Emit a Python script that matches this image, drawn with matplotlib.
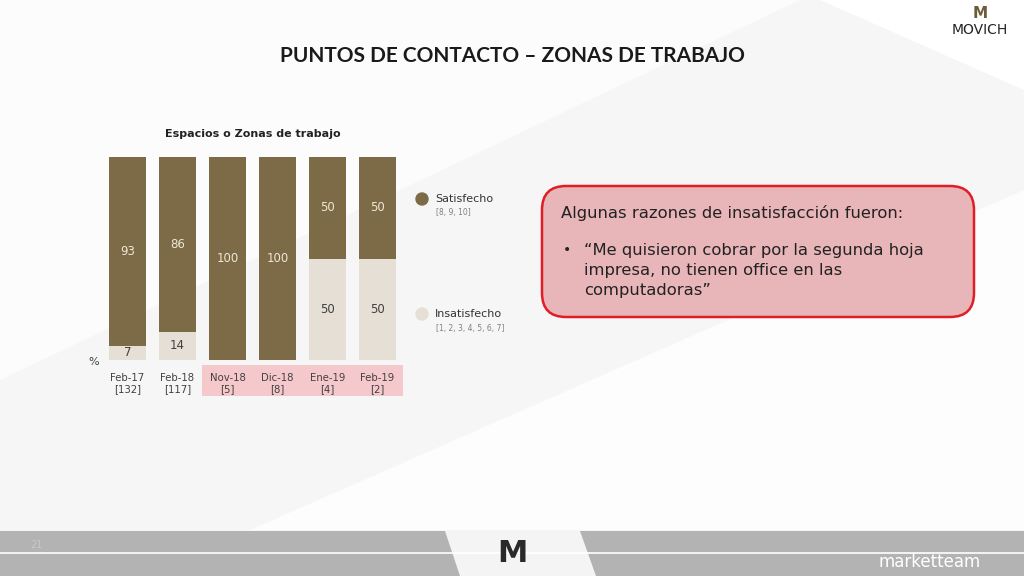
import matplotlib.pyplot as plt
import matplotlib.patches as mpatches
import numpy as np

# data
periodos = ['Feb-17', 'Feb-18', 'Nov-18', 'Dic-18', 'Ene-19', 'Feb-19']
bases = ['[132]', '[117]', '[5]', '[8]', '[4]', '[2]']
insatisfecho = [7, 14, 0, 0, 50, 50]
satisfecho = [93, 86, 100, 100, 50, 50]

c_sat = '#7d6b47'
c_ins = '#e6dfd5'
W, H = 1024, 576

plt.rcParams['font.family'] = ['DejaVu Sans']

fig = plt.figure(figsize=(10.24, 5.76), dpi=100)
fig.patch.set_facecolor('#f6f6f6')

# background decorations in pixel coords
bg = fig.add_axes([0, 0, 1, 1])
bg.set_xlim(0, W)
bg.set_ylim(H, 0)
bg.axis('off')
bg.add_patch(mpatches.Polygon([[0, 0], [800, 0], [0, 380]], color='#fcfcfc', lw=0))
bg.add_patch(mpatches.Polygon([[250, 530], [1024, 190], [1024, 530]], color='#fdfdfd', lw=0))
bg.add_patch(mpatches.Polygon([[820, 0], [1024, 0], [1024, 90]], color='#ffffff', lw=0))
# footer band
bg.add_patch(mpatches.Rectangle((0, 531), W, 45, color='#b3b3b3', lw=0))
bg.plot([0, W], [553, 553], color='white', lw=1.2)
bg.add_patch(mpatches.Polygon([[445, 531], [580, 531], [596, 576], [460, 576]],
                              color='#f4f4f4', lw=0))
bg.text(512, 553, 'M', ha='center', va='center', fontsize=22, color='#2a2a2a',
        fontweight='bold')
bg.text(30, 545, '21', fontsize=7, color='#c8c8c8', va='center')
bg.text(930, 562, 'marketteam', fontsize=12, color='white', ha='center', va='center')
bg.text(980, 30, 'MOVICH', fontsize=10, color='#222222', ha='center', va='center')
bg.text(980, 14, 'M', fontsize=11, color='#6d5c3a', ha='center', va='center',
        fontweight='bold')

# title
bg.text(512, 56, 'PUNTOS DE CONTACTO – ZONAS DE TRABAJO', ha='center', va='center',
        fontsize=15, fontweight='bold', color='#1a1a1a', family='Lato')
bg.text(253, 134, 'Espacios o Zonas de trabajo', ha='center', va='center',
        fontsize=8, fontweight='bold', color='#222222')

# pink band behind recent periods
bg.add_patch(mpatches.Rectangle((202, 365), 201, 31, color='#f5c9cc', lw=0))

# chart
ax = fig.add_axes([100 / W, (H - 360) / H, 305 / W, 203 / H])
x = np.arange(len(periodos))
ax.bar(x, insatisfecho, width=0.74, color=c_ins)
ax.bar(x, satisfecho, width=0.74, bottom=insatisfecho, color=c_sat)
for i in x:
    if insatisfecho[i] > 0:
        ax.text(i, insatisfecho[i] / 2, str(insatisfecho[i]), ha='center', va='center',
                fontsize=8.5, color='#404040')
    ax.text(i, insatisfecho[i] + satisfecho[i] / 2, str(satisfecho[i]), ha='center',
            va='center', fontsize=8.5, color='#efe6d6')
ax.set_xlim(-0.55, 5.55)
ax.set_ylim(0, 100)
ax.axis('off')
ax.patch.set_alpha(0)
for i in x:
    ax.text(i, -6.5, periodos[i] + '\n' + bases[i], ha='center', va='top', fontsize=7.3,
            color='#404040', linespacing=1.15)
ax.text(-0.68, -1, '%', ha='center', va='center', fontsize=8, color='#404040')

# legend
bg.add_patch(mpatches.Circle((422, 199), 6, color=c_sat))
bg.text(435, 199, 'Satisfecho', va='center', fontsize=8, color='#333333')
bg.text(436, 213, '[8, 9, 10]', va='center', fontsize=5.5, color='#808080')
bg.add_patch(mpatches.Circle((422, 314), 6, color=c_ins))
bg.text(435, 314, 'Insatisfecho', va='center', fontsize=8, color='#333333')
bg.text(436, 328, '[1, 2, 3, 4, 5, 6, 7]', va='center', fontsize=5.5, color='#808080')

# comment box
box = mpatches.FancyBboxPatch((542, 186), 432, 131,
                              boxstyle='round,pad=0,rounding_size=24',
                              facecolor='#e8b5b8', edgecolor='#e01e25', lw=1.8)
bg.add_patch(box)
bg.text(561, 213, 'Algunas razones de insatisfacción fueron:', va='center',
        fontsize=11.8, color='#222222')
bg.text(563, 250, '•', va='center', fontsize=10, color='#222222')
bg.text(584, 243, '“Me quisieron cobrar por la segunda hoja\nimpresa, no tienen office en las\ncomputadoras”',
        va='top', fontsize=11.8, color='#222222', linespacing=1.4)

fig.savefig('out.png', dpi=100)
